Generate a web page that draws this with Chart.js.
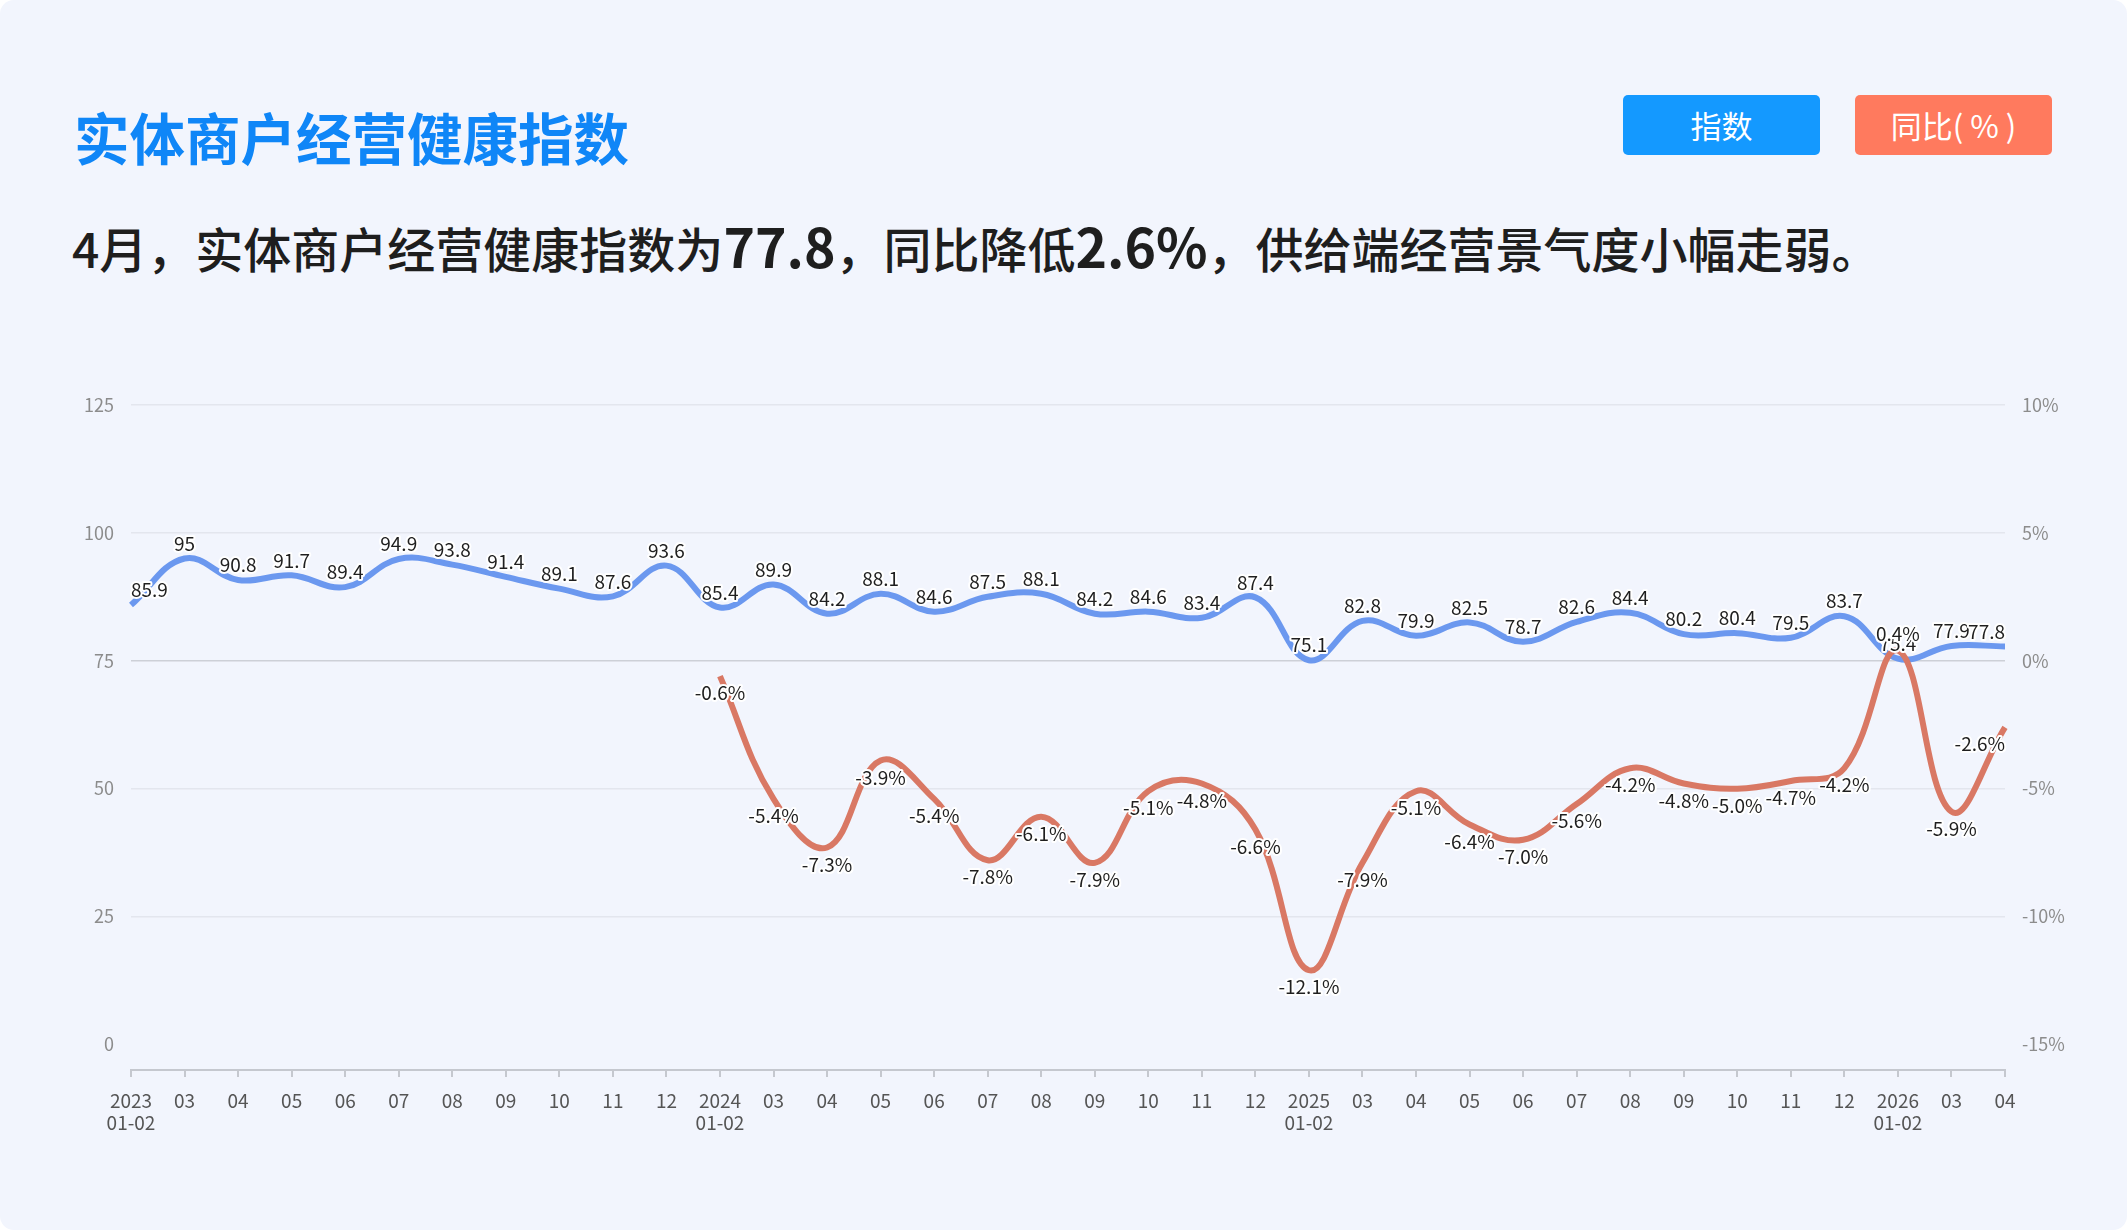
<!DOCTYPE html>
<html lang="zh-CN">
<head>
<meta charset="utf-8">
<title>实体商户经营健康指数</title>
<script src="https://cdn.jsdelivr.net/npm/chart.js@4/dist/chart.umd.min.js"></script>
<style>
  html, body { margin: 0; padding: 0; background: #ffffff; }
  body { width: 2127px; height: 1230px; overflow: hidden; position: relative;
         font-family: "Noto Sans CJK SC", "Noto Sans", sans-serif; }
  .card { position: absolute; left: 0; top: 0; width: 2127px; height: 1230px;
          background: #f2f5fd; border-radius: 14px; }
  h1 { position: absolute; left: 74px; top: 105px; margin: 0; font-size: 55.5px; line-height: 62px;
       font-weight: 700; color: #0f86f7; }
  .summary { position: absolute; left: 72px; top: 213px; margin: 0; font-size: 48px; line-height: 64px;
             font-weight: 500; color: #1e1e1e; white-space: nowrap; }
  .summary b { font-size: 53.5px; font-weight: 700; }
  .tag { position: absolute; top: 95px; width: 197px; height: 60px; border-radius: 5px;
         color: #fff; font-size: 31px; line-height: 60px; text-align: center; }
  .tag.index { left: 1623px; background: #1499ff; }
  .tag.yoy { left: 1855px; background: #ff7a5e; }
  #healthChart { position: absolute; left: 0; top: 0; }
</style>
</head>
<body>
<div class="card"></div>
<h1>实体商户经营健康指数</h1>
<div class="tag index">指数</div>
<div class="tag yoy">同比( % )</div>
<p class="summary">4月，实体商户经营健康指数为<b>77.8</b>，同比降低<b>2.6%</b>，供给端经营景气度小幅走弱。</p>
<canvas id="healthChart" width="2127" height="1230"></canvas>

<script>
// months on the x axis (01-02 are reported together)
const months = [
    ['2023', '01-02'], '03', '04', '05', '06', '07', '08', '09', '10', '11', '12',
    ['2024', '01-02'], '03', '04', '05', '06', '07', '08', '09', '10', '11', '12',
    ['2025', '01-02'], '03', '04', '05', '06', '07', '08', '09', '10', '11', '12',
    ['2026', '01-02'], '03', '04'
];

// health index
const indexValues = [
    85.9, 95, 90.8, 91.7, 89.4, 94.9, 93.8, 91.4, 89.1, 87.6, 93.6,
    85.4, 89.9, 84.2, 88.1, 84.6, 87.5, 88.1, 84.2, 84.6, 83.4, 87.4,
    75.1, 82.8, 79.9, 82.5, 78.7, 82.6, 84.4, 80.2, 80.4, 79.5, 83.7,
    75.4, 77.9, 77.8
];

// year-on-year change, %
const yoyValues = [
    null, null, null, null, null, null, null, null, null, null, null,
    -0.6, -5.4, -7.3, -3.9, -5.4, -7.8, -6.1, -7.9, -5.1, -4.8, -6.6,
    -12.1, -7.9, -5.1, -6.4, -7.0, -5.6, -4.2, -4.8, -5.0, -4.7, -4.2,
    0.4, -5.9, -2.6
];

const leftTicks = [0, 25, 50, 75, 100, 125];
const rightTicks = [-15, -10, -5, 0, 5, 10];

Chart.defaults.font.family = '"Noto Sans CJK SC", "Noto Sans", sans-serif';

// value labels with a white halo, blue above the line, red below (above when positive)
const pointLabels = {
    id: 'pointLabels',
    afterDatasetsDraw(chart) {
        const c = chart.ctx;
        const area = chart.chartArea;
        c.save();
        c.font = '19px "Noto Sans CJK SC", sans-serif';
        c.textAlign = 'center';
        c.textBaseline = 'middle';
        c.lineJoin = 'round';
        [0, 1].forEach(function (di) {
            const meta = chart.getDatasetMeta(di);
            const values = chart.data.datasets[di].data;
            meta.data.forEach(function (pt, i) {
                const v = values[i];
                if (v === null || v === undefined) return;
                const text = di === 0 ? String(v) : v.toFixed(1) + '%';
                const w = c.measureText(text).width;
                let x = pt.x;
                if (x - w / 2 < area.left) x = area.left + w / 2;
                if (x + w / 2 > area.right) x = area.right - w / 2;
                let y;
                if (di === 0) y = pt.y - 15;
                else y = v >= 0 ? pt.y - 17 : pt.y + 17;
                c.strokeStyle = '#ffffff';
                c.lineWidth = 4;
                c.strokeText(text, x, y);
                c.fillStyle = '#1f1f1f';
                c.fillText(text, x, y);
            });
        });
        c.restore();
    }
};

var ctx = document.getElementById('healthChart').getContext('2d');
var healthChart = new Chart(ctx, {
    type: 'line',
    data: {
        labels: months,
        datasets: [{
            label: '指数',
            data: indexValues,
            yAxisID: 'y',
            borderColor: '#6b98ef',
            borderWidth: 6,
            pointRadius: 0,
            tension: 0.4,
            order: 1
        }, {
            label: '同比(%)',
            data: yoyValues,
            yAxisID: 'y1',
            borderColor: '#d97864',
            borderWidth: 6,
            pointRadius: 0,
            tension: 0.4,
            order: 0
        }]
    },
    options: {
        responsive: false,
        animation: false,
        layout: { padding: { top: 405, left: 0, right: 0, bottom: 0 } },
        plugins: { legend: { display: false }, tooltip: { enabled: false } },
        scales: {
            x: {
                grid: { drawOnChartArea: false, color: '#c5c8cf', tickLength: 7, lineWidth: 2 },
                border: { color: '#c5c8cf', width: 2 },
                ticks: { autoSkip: false, maxRotation: 0, padding: 12, color: '#555555', font: { size: 19 } },
                afterFit: function (s) { s.height = 160; }
            },
            y: {
                position: 'left',
                min: -5,
                max: 125,
                afterBuildTicks: function (s) { s.ticks = leftTicks.map(v => ({ value: v })); },
                grid: {
                    drawTicks: false,
                    lineWidth: 1.5,
                    color: function (c) {
                        if (c.tick.value === 0) return 'rgba(0,0,0,0)';
                        if (c.tick.value === 75) return '#cdd0d7';
                        return '#e3e6ee';
                    }
                },
                border: { display: false },
                ticks: { padding: 17, color: '#8c8c8c', font: { size: 18 } },
                afterFit: function (s) { s.width = 131; }
            },
            y1: {
                position: 'right',
                min: -16,
                max: 10,
                afterBuildTicks: function (s) { s.ticks = rightTicks.map(v => ({ value: v })); },
                grid: { display: false },
                border: { display: false },
                ticks: { padding: 9, color: '#8c8c8c', font: { size: 18 }, callback: v => v + '%' },
                afterFit: function (s) { s.width = 122; }
            }
        }
    },
    plugins: [pointLabels]
});
</script>
</body>
</html>
